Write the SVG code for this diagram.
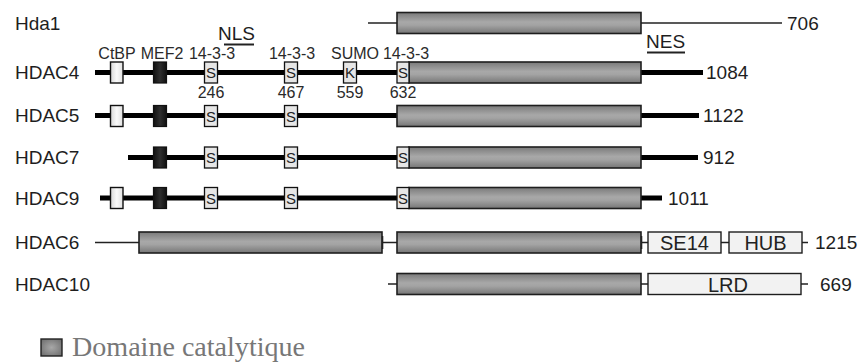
<svg xmlns="http://www.w3.org/2000/svg" width="860" height="364" viewBox="0 0 860 364">
  <defs>
    <linearGradient id="gCat" x1="0" y1="0" x2="0" y2="1">
      <stop offset="0" stop-color="#7a7a7a"/>
      <stop offset="0.45" stop-color="#a8a8a8"/>
      <stop offset="0.6" stop-color="#a3a3a3"/>
      <stop offset="1" stop-color="#767676"/>
    </linearGradient>
    <linearGradient id="gLight" x1="0" y1="0" x2="1" y2="0">
      <stop offset="0" stop-color="#d8d8d8"/>
      <stop offset="0.5" stop-color="#fafafa"/>
      <stop offset="1" stop-color="#e0e0e0"/>
    </linearGradient>
    <linearGradient id="gDark" x1="0" y1="0" x2="1" y2="0">
      <stop offset="0" stop-color="#111"/>
      <stop offset="0.5" stop-color="#2e2e2e"/>
      <stop offset="1" stop-color="#111"/>
    </linearGradient>
    <radialGradient id="gLegend" cx="0.5" cy="0.5" r="0.7">
      <stop offset="0" stop-color="#a8a8a8"/>
      <stop offset="1" stop-color="#6a6a6a"/>
    </radialGradient>
  </defs>
  <style>
    .name { font-family: "Liberation Sans", Arial, sans-serif; font-size: 19px; fill: #1e1e1e; }
    .len { font-family: "Liberation Sans", Arial, sans-serif; font-size: 19px; fill: #1e1e1e; }
    .site { font-family: "Liberation Sans", Arial, sans-serif; font-size: 16px; fill: #2a2a2a; text-anchor: middle; }
    .res { font-family: "Liberation Sans", Arial, sans-serif; font-size: 15px; fill: #222; text-anchor: middle; }
    .dom { font-family: "Liberation Sans", Arial, sans-serif; font-size: 20px; fill: #222; text-anchor: middle; }
    .cat { fill: url(#gCat); stroke: #1e1e1e; stroke-width: 1.6; }
    .box { fill: #f2f2f2; stroke: #1e1e1e; stroke-width: 1.4; }
    .ctbp { fill: url(#gLight); stroke: #111; stroke-width: 1.4; }
    .mef2 { fill: url(#gDark); stroke: #111; stroke-width: 1.2; }
    .sbox { fill: #e6e6e6; stroke: #111; stroke-width: 1.3; }
    .thick { stroke: #000; stroke-width: 5; fill: none; }
    .thin { stroke: #222; stroke-width: 1.6; fill: none; }
    .ul { stroke: #222; stroke-width: 2; }
  </style>

  <!-- Hda1 -->
  <g id="hda1">
    <text class="name" x="15" y="30">Hda1</text>
    <line class="thin" x1="368" y1="23" x2="782" y2="23"/>
    <rect class="cat" x="397" y="12.5" width="244" height="21"/>
    <text class="len" x="787" y="30">706</text>
  </g>

  <!-- NLS / NES motifs -->
  <g id="motifs">
    <text class="name" x="218" y="40">NLS</text>
    <line class="ul" x1="224" y1="44.5" x2="254" y2="44.5"/>
    <text class="name" x="646" y="48">NES</text>
    <line class="ul" x1="647" y1="52.5" x2="685" y2="52.5"/>
  </g>

  <!-- HDAC4 -->
  <g id="hdac4">
    <text class="name" x="15" y="79">HDAC4</text>
    <line class="thick" x1="95" y1="72.5" x2="703" y2="72.5"/>
    <text class="site" x="117" y="59">CtBP</text>
    <text class="site" x="162" y="59">MEF2</text>
    <text class="site" x="212" y="59">14-3-3</text>
    <text class="site" x="292" y="59">14-3-3</text>
    <text class="site" x="355" y="59">SUMO</text>
    <text class="site" x="406" y="59">14-3-3</text>
    <rect class="cat" x="409" y="62" width="232" height="21"/>
    <rect class="ctbp" x="110.5" y="62" width="12.5" height="21"/>
    <rect class="mef2" x="153.5" y="62" width="13" height="21"/>
    <rect class="sbox" x="204.5" y="62" width="13" height="21"/><text class="res" x="211" y="78">S</text>
    <rect class="sbox" x="284.5" y="62" width="13" height="21"/><text class="res" x="291" y="78">S</text>
    <rect class="sbox" x="343.5" y="62" width="13" height="21"/><text class="res" x="350" y="78">K</text>
    <rect class="sbox" x="397" y="62" width="12" height="21"/><text class="res" x="403" y="78">S</text>
    <text class="site" x="211" y="98">246</text>
    <text class="site" x="291" y="98">467</text>
    <text class="site" x="350" y="98">559</text>
    <text class="site" x="403" y="98">632</text>
    <text class="len" x="706" y="79">1084</text>
  </g>

  <!-- HDAC5 -->
  <g id="hdac5">
    <text class="name" x="15" y="122">HDAC5</text>
    <line class="thick" x1="95" y1="115.5" x2="699" y2="115.5"/>
    <rect class="cat" x="397" y="105.5" width="244" height="21"/>
    <rect class="ctbp" x="110.5" y="105.5" width="12.5" height="21"/>
    <rect class="mef2" x="153.5" y="105.5" width="13" height="21"/>
    <rect class="sbox" x="204.5" y="105.5" width="13" height="21"/><text class="res" x="211" y="121.5">S</text>
    <rect class="sbox" x="284.5" y="105.5" width="13" height="21"/><text class="res" x="291" y="121.5">S</text>
    <text class="len" x="703" y="122">1122</text>
  </g>

  <!-- HDAC7 -->
  <g id="hdac7">
    <text class="name" x="15" y="164">HDAC7</text>
    <line class="thick" x1="128" y1="157.5" x2="698" y2="157.5"/>
    <rect class="cat" x="409" y="147" width="232" height="21"/>
    <rect class="mef2" x="153.5" y="147" width="13" height="21"/>
    <rect class="sbox" x="204.5" y="147" width="13" height="21"/><text class="res" x="211" y="163">S</text>
    <rect class="sbox" x="284.5" y="147" width="13" height="21"/><text class="res" x="291" y="163">S</text>
    <rect class="sbox" x="397" y="147" width="12" height="21"/><text class="res" x="403" y="163">S</text>
    <text class="len" x="703" y="164">912</text>
  </g>

  <!-- HDAC9 -->
  <g id="hdac9">
    <text class="name" x="15" y="205">HDAC9</text>
    <line class="thick" x1="100" y1="198" x2="662" y2="198"/>
    <rect class="cat" x="409" y="187.5" width="232" height="21"/>
    <rect class="ctbp" x="110.5" y="187.5" width="12.5" height="21"/>
    <rect class="mef2" x="153.5" y="187.5" width="13" height="21"/>
    <rect class="sbox" x="204.5" y="187.5" width="13" height="21"/><text class="res" x="211" y="203.5">S</text>
    <rect class="sbox" x="284.5" y="187.5" width="13" height="21"/><text class="res" x="291" y="203.5">S</text>
    <rect class="sbox" x="397" y="187.5" width="12" height="21"/><text class="res" x="403" y="203.5">S</text>
    <text class="len" x="668" y="205">1011</text>
  </g>

  <!-- HDAC6 -->
  <g id="hdac6">
    <text class="name" x="15" y="249">HDAC6</text>
    <line class="thin" x1="95" y1="242.5" x2="808" y2="242.5"/>
    <rect class="cat" x="139" y="232" width="243" height="21"/>
    <rect class="cat" x="397" y="232" width="244" height="21"/>
    <line class="thin" x1="382.5" y1="236" x2="382.5" y2="249"/>
    <line class="thin" x1="641.5" y1="236" x2="641.5" y2="249"/>
    <rect class="box" x="648" y="232" width="73" height="21"/>
    <text class="dom" x="684.5" y="249.5">SE14</text>
    <rect class="box" x="729" y="232" width="73" height="21"/>
    <text class="dom" x="765.5" y="249.5">HUB</text>
    <text class="len" x="815" y="249">1215</text>
  </g>

  <!-- HDAC10 -->
  <g id="hdac10">
    <text class="name" x="15" y="291">HDAC10</text>
    <line class="thin" x1="388" y1="284" x2="808" y2="284"/>
    <rect class="cat" x="397" y="273.5" width="244" height="21"/>
    <rect class="box" x="648" y="273.5" width="153" height="21"/>
    <text class="dom" x="728" y="291.5">LRD</text>
    <text class="len" x="820" y="291">669</text>
  </g>

  <!-- Legend -->
  <g id="legend">
    <rect x="41" y="339" width="21" height="17" fill="url(#gLegend)" stroke="#222" stroke-width="1.4"/>
    <text x="72" y="356" font-family="'Liberation Serif', 'Times New Roman', serif" font-size="27.5" fill="#777" textLength="233" lengthAdjust="spacingAndGlyphs">Domaine catalytique</text>
  </g>
</svg>
